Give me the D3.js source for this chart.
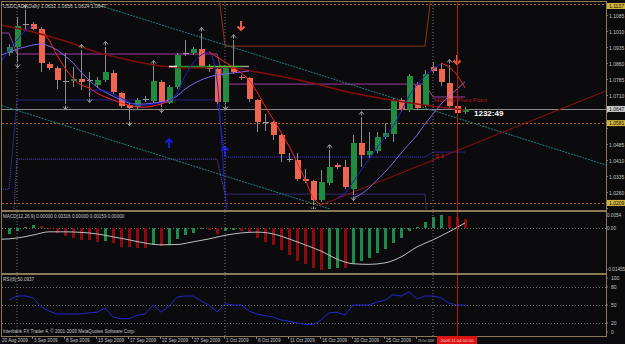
<!DOCTYPE html>
<html>
<head>
<meta charset="utf-8">
<script src="https://cdnjs.cloudflare.com/ajax/libs/d3/7.8.5/d3.min.js"></script>
<style>
  body { margin: 0; background: #0b0b0e; }
  svg { display: block; font-family: "Liberation Sans", Arial, sans-serif; }
</style>
</head>
<body>
<div id="chart"></div>
<script>
// SVG size
let svgWidth = 625;
let svgHeight = 344;

// Daily USDCAD bars
let opens = [1.0908,1.0936,1.1043,1.1043,1.1020,1.0857,1.0838,1.0778,1.0777,1.0787,
  1.0782,1.0759,1.0782,1.0815,1.0721,1.0665,1.0656,1.0693,1.0684,1.0773,
  1.0675,1.0749,1.0907,1.0908,1.0926,1.0847,1.0833,1.0679,1.0838,1.0796,
  1.0791,1.0689,1.0587,1.0586,1.0525,1.0414,1.0409,1.0320,1.0311,1.0222,
  1.0301,1.0385,1.0376,1.0273,1.0488,1.0432,1.0451,1.0516,1.0530,1.0689,
  1.0642,1.0759,1.0665,1.0842,1.0833,1.0768,1.0661,1.0632];
let highs = [1.0950,1.1076,1.1108,1.1052,1.1029,1.0866,1.0847,1.0908,1.0842,1.0922,
  1.0819,1.0796,1.0936,1.0828,1.0726,1.0675,1.0698,1.0707,1.0847,1.0782,
  1.0759,1.0908,1.0968,1.0936,1.1001,1.0857,1.0838,1.0847,1.0968,1.0805,
  1.0796,1.0693,1.0623,1.0591,1.0530,1.0441,1.0441,1.0367,1.0315,1.0362,
  1.0455,1.0395,1.0409,1.0525,1.0609,1.0539,1.0539,1.0581,1.0698,1.0698,
  1.0810,1.0773,1.0828,1.0866,1.0861,1.0852,1.0670,1.0656];
let lows = [1.0894,1.0866,1.1015,1.1015,1.0819,1.0828,1.0740,1.0670,1.0749,1.0735,
  1.0703,1.0745,1.0773,1.0717,1.0651,1.0595,1.0647,1.0679,1.0675,1.0656,
  1.0670,1.0740,1.0894,1.0898,1.0838,1.0819,1.0670,1.0670,1.0810,1.0782,
  1.0679,1.0539,1.0544,1.0502,1.0399,1.0399,1.0311,1.0301,1.0199,1.0213,
  1.0292,1.0367,1.0273,1.0246,1.0376,1.0418,1.0441,1.0507,1.0493,1.0633,
  1.0633,1.0642,1.0656,1.0815,1.0754,1.0651,1.0619,1.0624];
let closes = [1.0936,1.1034,1.1041,1.1020,1.0861,1.0838,1.0782,1.0777,1.0787,1.0773,
  1.0781,1.0782,1.0819,1.0726,1.0661,1.0651,1.0689,1.0692,1.0777,1.0679,
  1.0749,1.0898,1.0906,1.0926,1.0847,1.0833,1.0679,1.0838,1.0819,1.0791,
  1.0693,1.0586,1.0585,1.0525,1.0437,1.0412,1.0320,1.0311,1.0222,1.0306,
  1.0376,1.0376,1.0283,1.0488,1.0432,1.0451,1.0516,1.0535,1.0689,1.0642,
  1.0801,1.0651,1.0810,1.0824,1.0773,1.0661,1.0628,1.0647];

// Fractal bars
let fractalUp = [2, 9, 12, 18, 24, 28, 40, 44, 55];
let fractalDown = [1, 7, 10, 15, 19, 27, 38, 43];

// Signal arrows [bar, price]
let arrowsDown = [[29, 1.1034], [56, 1.0875]];
let arrowsUp = [[20, 1.0488], [27, 1.0451]];

// Overlay curves [bar, price]
let maSlow = [[-1,1.1038],[3,1.1006],[7,1.0964],[11,1.0912],[15,1.0875],[19,1.0847],[23,1.0838],
  [27,1.0842],[31,1.0819],[35,1.0791],[39,1.0758],[43,1.0721],[47,1.0693],[51,1.0670],[55,1.0651],[57,1.0642]];
let redCurves = [
  [[4,1.1015],[5,1.0968],[6,1.0898],[7,1.0838],[8,1.0791],[9,1.0759],[10,1.0745],[11,1.0721],[12,1.0703],
   [13,1.0689],[14,1.0675],[15,1.0665],[16,1.0656],[17,1.0656],[18,1.0661],[19,1.0670],[20,1.0684]],
  [[25,1.0913],[26,1.0889],[27,1.0866],[28,1.0842],[29,1.0815],[30,1.0782],[31,1.0726],[32,1.0661],
   [33,1.0600],[34,1.0539],[35,1.0474],[36,1.0399],[37,1.0320],[38,1.0236],[39,1.0199]],
  [[54,1.0861],[55,1.0842],[56,1.0805],[57,1.0745]]
];
let blueCurves = [
  [[-1,1.0866],[0,1.0922],[1,1.0968],[2,1.1010],[3,1.1034]],
  [[10,1.0726],[11,1.0735],[12,1.0731],[13,1.0717],[14,1.0698],[15,1.0679],[16,1.0665],[17,1.0665],
   [18,1.0670],[19,1.0675],[20,1.0684],[21,1.0721],[22,1.0801],[23,1.0861],[24,1.0898],[25,1.0913],
   [26,1.0782],[27,1.0268],[28,0.9900]],
  [[41,1.0232],[42,1.0255],[43,1.0306],[44,1.0362],[45,1.0413],[46,1.0465],[47,1.0516],[48,1.0567],
   [49,1.0633],[50,1.0707],[51,1.0759],[52,1.0801],[53,1.0833],[54,1.0857]]
];
let violetCurves = [
  [[-1,1.0898],[0,1.0912],[1,1.0926],[2,1.0936],[3,1.0945],[4,1.0950],[5,1.0940],[6,1.0922],[7,1.0894],
   [8,1.0862],[9,1.0819],[10,1.0782],[11,1.0749],[12,1.0726],[13,1.0707],[14,1.0689],[15,1.0675],
   [16,1.0670],[17,1.0670],[18,1.0675],[19,1.0679],[20,1.0689],[21,1.0707],[22,1.0740],[23,1.0763],
   [24,1.0782],[25,1.0796],[26,1.0805],[27,1.0810],[28,1.0815],[29,1.0819],[30,1.0824]],
  [[43,1.0232],[44,1.0250],[45,1.0278],[46,1.0315],[47,1.0353],[48,1.0395],[49,1.0441],[50,1.0483],
   [51,1.0525],[52,1.0577],[53,1.0623],[54,1.0670],[55,1.0707],[56,1.0740],[57,1.0773]]
];
let greenLevelBars = [20, 21, 25, 29, 30];
let greenLevel = 1.0845;

// Trend lines [bar, price] pairs, extended to the chart edges
let trendUp = [[39, 1.0199], [57, 1.0468]];
let channelHigh = [[49, 1.0687], [57, 1.0593]];
let channelLow = [[0, 1.0652], [40, 1.0182]];

// Monthly pivots (Aug, Sep, Oct, Nov)
let monthStart = [-1, 1, 27, 53];
let pivotP = [1.1001, 1.0903, 1.0763, 1.0703];
let pivotR1 = [1.1250, 1.1250, 1.0940, 1.1250];
let pivotS1 = [1.0273, 1.0689, 1.0423, 1.0446];
let pivotS2 = [0.9800, 1.0413, 1.0250, 0.9800];

// Horizontal price levels
let levelsDotted = [1.1137, 1.0581, 1.0209];
let bidPrice = 1.0647;

// MACD(12,26,9)
let macdHist = [-0.0020,-0.0010,0.0003,0.0010,0.0005,-0.0002,-0.0017,-0.0027,-0.0034,-0.0040,
  -0.0041,-0.0047,-0.0044,-0.0051,-0.0064,-0.0066,-0.0068,-0.0069,-0.0058,-0.0061,
  -0.0057,-0.0037,-0.0024,-0.0017,-0.0005,-0.0008,-0.0020,-0.0010,-0.0007,-0.0009,
  -0.0014,-0.0034,-0.0047,-0.0057,-0.0074,-0.0091,-0.0111,-0.0121,-0.0135,-0.0142,
  -0.0138,-0.0135,-0.0136,-0.0121,-0.0111,-0.0101,-0.0084,-0.0071,-0.0051,-0.0034,
  -0.0010,0.0002,0.0020,0.0037,0.0044,0.0040,0.0037,0.0030];
let macdSignal = [[-1,-0.0038],[0,-0.0037],[1,-0.0034],[3,-0.0024],[5,-0.0013],[7,-0.0013],[9,-0.0015],
  [11,-0.0020],[13,-0.0030],[15,-0.0040],[17,-0.0051],[19,-0.0057],[21,-0.0056],[23,-0.0047],
  [25,-0.0037],[27,-0.0025],[29,-0.0017],[31,-0.0014],[33,-0.0020],[35,-0.0037],[37,-0.0057],
  [39,-0.0078],[41,-0.0105],[43,-0.0121],[45,-0.0123],[47,-0.0118],[49,-0.0098],[51,-0.0064],
  [53,-0.0040],[55,-0.0013],[57,0.0017]];

// RSI(8)
let rsi = [58,65,65,62,47,40,35,35,35,35, 37,38,45,30,27,27,33,35,50,38,
  48,63,65,65,57,50,38,52,50,50, 40,35,32,30,25,23,20,18,17,25,
  37,38,33,50,50,50,55,58,67,65, 72,60,65,65,62,53,50,50.09];
let rsiLevels = [80, 50, 20];

// Axis labels
let priceTicks = d3.range(0, 13).map((k) => 1.1085 - k * 0.0075);
let timeBars = [3, 7, 11, 15, 19, 23, 27, 31, 35, 39, 43, 47, 51];
let timeLabels = ["3 Sep 2009","8 Sep 2009","13 Sep 2009","17 Sep 2009","22 Sep 2009","27 Sep 2009",
  "1 Oct 2009","6 Oct 2009","11 Oct 2009","16 Oct 2009","20 Oct 2009","25 Oct 2009","29 Oct 2009"];
let cursorBar = 56;

// colours
let frameColor = "#8a7a56";
let textColor = "#c4c4c4";
let bullColor = "#1f8c3e";
let bearColor = "#ef6650";

// scales
let x = d3.scaleLinear().domain([0, 57]).range([9, 465]);
let yPrice = d3.scaleLinear().domain([1.0176, 1.1141]).range([210, 3]);
let yMacd = d3.scaleLinear().domain([-0.01455, 0.0054]).range([271, 212]);
let yRsi = d3.scaleLinear().domain([0, 100]).range([335, 275]);

let svg = d3.select("#chart").append("svg")
  .attr("width", svgWidth)
  .attr("height", svgHeight);

svg.append("rect").attr("width", svgWidth).attr("height", svgHeight).attr("fill", "#0b0b0e");

// clip areas for each panel
let defs = svg.append("defs");
[["clipMain", 2, 209], ["clipMacd", 212, 272], ["clipRsi", 275, 335]].forEach((c) => {
  defs.append("clipPath").attr("id", c[0]).append("rect")
    .attr("x", 2).attr("y", c[1]).attr("width", 604).attr("height", c[2] - c[1]);
});

let main = svg.append("g").attr("clip-path", "url(#clipMain)");
let macdG = svg.append("g").attr("clip-path", "url(#clipMacd)");
let rsiG = svg.append("g").attr("clip-path", "url(#clipRsi)");

// Month separators (all panels)
monthStart.slice(1).forEach((b) => {
  svg.append("line")
    .attr("x1", x(b)).attr("x2", x(b)).attr("y1", 2).attr("y2", 336)
    .attr("stroke", "#6e6e6e").attr("stroke-dasharray", "1,2");
});

// Horizontal levels
levelsDotted.forEach((p) => {
  main.append("line").attr("x1", 2).attr("x2", 606)
    .attr("y1", Math.round(yPrice(p)) + 0.5).attr("y2", Math.round(yPrice(p)) + 0.5)
    .attr("stroke", "#b0672c").attr("stroke-dasharray", "2,2");
});
main.append("line").attr("x1", 2).attr("x2", 606)
  .attr("y1", Math.round(yPrice(bidPrice)) + 0.5).attr("y2", Math.round(yPrice(bidPrice)) + 0.5)
  .attr("stroke", "#8a8a8a");

// line helpers
let priceLine = d3.line().x((d) => x(d[0])).y((d) => yPrice(d[1]));
let smoothLine = d3.line().x((d) => x(d[0])).y((d) => yPrice(d[1])).curve(d3.curveMonotoneX);

// Monthly pivot lines, one value per bar
function pivotPoints(values) {
  return d3.range(-1, 58).map((b) => {
    let m = monthStart.filter((s) => s <= b).length - 1;
    return [b, values[m]];
  });
}
main.append("path").attr("d", priceLine(pivotPoints(pivotR1)))
  .attr("fill", "none").attr("stroke", "#8a3418");
main.append("path").attr("d", priceLine(pivotPoints(pivotP)))
  .attr("fill", "none").attr("stroke", "#a23aa2");
main.append("path").attr("d", priceLine(pivotPoints(pivotS1)))
  .attr("fill", "none").attr("stroke", "#3d3dff").attr("stroke-dasharray", "1,1");
main.append("path").attr("d", priceLine(pivotPoints(pivotS2)))
  .attr("fill", "none").attr("stroke", "#6446d2").attr("stroke-dasharray", "1,1");

// Trend lines extended across the chart
function extend(pts) {
  let slope = (pts[1][1] - pts[0][1]) / (pts[1][0] - pts[0][0]);
  return [[-2, pts[0][1] + slope * (-2 - pts[0][0])], [75, pts[0][1] + slope * (75 - pts[0][0])]];
}
main.append("path").attr("d", priceLine(extend(channelHigh)))
  .attr("stroke", "#1c8080").attr("stroke-dasharray", "2,1").attr("fill", "none");
main.append("path").attr("d", priceLine(extend(channelLow)))
  .attr("stroke", "#1c8080").attr("stroke-dasharray", "2,1").attr("fill", "none");
main.append("path").attr("d", priceLine([trendUp[0], extend(trendUp)[1]]))
  .attr("stroke", "#8e1010").attr("fill", "none");

// Candles
let candles = main.append("g").attr("shape-rendering", "crispEdges");
d3.range(opens.length).forEach((i) => {
  let cx = Math.round(x(i));
  let up = closes[i] >= opens[i];
  let flat = Math.abs(closes[i] - opens[i]) < 0.0004;
  candles.append("line")
    .attr("x1", cx + 0.5).attr("x2", cx + 0.5)
    .attr("y1", yPrice(highs[i])).attr("y2", yPrice(lows[i]))
    .attr("stroke", "#8c8c8c");
  let top = yPrice(Math.max(opens[i], closes[i]));
  let bot = yPrice(Math.min(opens[i], closes[i]));
  candles.append("rect")
    .attr("x", cx - 2).attr("width", 6)
    .attr("y", top).attr("height", Math.max(1, bot - top))
    .attr("fill", flat ? "#9a9a9a" : (up ? bullColor : bearColor));
});

// Slow MA
main.append("path").attr("d", smoothLine(maSlow))
  .attr("fill", "none").attr("stroke", "#860c0c").attr("stroke-width", 1.5);

// Level segments with changing colours
let levelColors = ["#e8e8e8", "#1c8c2c", "#3ad23a", "#9a9a9a"];
levelColors.forEach((c, k) => {
  main.append("line")
    .attr("x1", x(greenLevelBars[k])).attr("x2", x(greenLevelBars[k + 1]))
    .attr("y1", yPrice(greenLevel)).attr("y2", yPrice(greenLevel))
    .attr("stroke", c).attr("stroke-width", 1.5);
});

// Curves
violetCurves.forEach((c) => {
  main.append("path").attr("d", smoothLine(c)).attr("fill", "none").attr("stroke", "#7c66ee");
});
blueCurves.forEach((c) => {
  main.append("path").attr("d", smoothLine(c)).attr("fill", "none").attr("stroke", "#2121cc");
});
redCurves.forEach((c) => {
  main.append("path").attr("d", smoothLine(c)).attr("fill", "none").attr("stroke", "#ff2222");
});

// Fractals
fractalUp.forEach((b) => {
  main.append("path")
    .attr("transform", `translate(${x(b) + 0.5}, ${yPrice(highs[b]) - 4})`)
    .attr("d", "M-2.5,1.5L0,-1.5L2.5,1.5M0,-1.5L0,2.5")
    .attr("fill", "none").attr("stroke", "#9a9a9a");
});
fractalDown.forEach((b) => {
  main.append("path")
    .attr("transform", `translate(${x(b) + 0.5}, ${yPrice(lows[b]) + 4})`)
    .attr("d", "M-2.5,-1.5L0,1.5L2.5,-1.5M0,1.5L0,-2.5")
    .attr("fill", "none").attr("stroke", "#9a9a9a");
});

// Arrows
arrowsDown.forEach((a) => {
  main.append("path")
    .attr("transform", `translate(${x(a[0])}, ${yPrice(a[1])})`)
    .attr("d", "M0,-5L0,4M-3.5,0.5L0,4L3.5,0.5")
    .attr("fill", "none").attr("stroke", "#f05a44").attr("stroke-width", 2);
});
arrowsUp.forEach((a) => {
  main.append("path")
    .attr("transform", `translate(${x(a[0])}, ${yPrice(a[1])})`)
    .attr("d", "M0,5L0,-4M-3.5,-0.5L0,-4L3.5,-0.5")
    .attr("fill", "none").attr("stroke", "#1a1ad8").attr("stroke-width", 2);
});

// Pivot labels
main.append("text").attr("x", x(53) + 1).attr("y", yPrice(pivotP[3]) + 5)
  .attr("fill", "#a81c1c").attr("font-size", "6.2px").text("Monthly Pivot Point");
main.append("text").attr("x", x(53) + 2).attr("y", yPrice(pivotS1[3]) + 6)
  .attr("fill", "#d02020").attr("font-size", "6.2px").text("S 1");

// Countdown label
main.append("text").attr("x", x(57) + 9).attr("y", yPrice(bidPrice) + 7)
  .attr("fill", "#ffffff").attr("font-size", "8px").attr("font-weight", "bold").text("1232:49");

// Title
svg.append("text").attr("x", 3).attr("y", 8).attr("fill", textColor).attr("font-size", "5px")
  .text("USDCADe,Daily  1.0632 1.0656 1.0624 1.0647");

// MACD panel
macdG.append("line").attr("x1", 2).attr("x2", 606)
  .attr("y1", Math.round(yMacd(0)) + 0.5).attr("y2", Math.round(yMacd(0)) + 0.5)
  .attr("stroke", "#6e6e6e").attr("stroke-dasharray", "1,2");
macdG.append("g").attr("shape-rendering", "crispEdges")
  .selectAll("rect").data(macdHist).enter().append("rect")
  .attr("x", (d, i) => Math.round(x(i)) - 1)
  .attr("width", 3)
  .attr("y", (d) => Math.min(yMacd(d), yMacd(0)))
  .attr("height", (d) => Math.max(1, Math.abs(yMacd(d) - yMacd(0))))
  .attr("fill", (d, i) => (i === 0 || d > macdHist[i - 1]) ? "#1d8c48" : "#8c0a0a");
macdG.append("path")
  .attr("d", d3.line().x((d) => x(d[0])).y((d) => yMacd(d[1])).curve(d3.curveMonotoneX)(macdSignal))
  .attr("fill", "none").attr("stroke", "#bdbdbd");
svg.append("text").attr("x", 3).attr("y", 218).attr("fill", textColor).attr("font-size", "4.6px")
  .text("MACD(12,26,9) 0.00000 0.00316 0.00000 0.00159 0.00000");

// RSI panel
rsiLevels.forEach((v) => {
  rsiG.append("line").attr("x1", 2).attr("x2", 606)
    .attr("y1", Math.round(yRsi(v)) + 0.5).attr("y2", Math.round(yRsi(v)) + 0.5)
    .attr("stroke", "#6e6e6e").attr("stroke-dasharray", "1,2");
});
rsiG.append("path")
  .attr("d", d3.line().x((d, i) => x(i)).y((d) => yRsi(d))(rsi))
  .attr("fill", "none").attr("stroke", "#2424d2");
svg.append("text").attr("x", 3).attr("y", 281).attr("fill", textColor).attr("font-size", "4.6px")
  .text("RSI(8) 50.0937");
svg.append("text").attr("x", 3).attr("y", 333).attr("fill", textColor).attr("font-size", "4.6px")
  .text("Interbank FX Trader 4, © 2001-2009 MetaQuotes Software Corp.");

// cursor line
svg.append("line")
  .attr("x1", x(cursorBar) + 0.5).attr("x2", x(cursorBar) + 0.5).attr("y1", 2).attr("y2", 336)
  .attr("stroke", "#b81414");

// Frames
let frame = svg.append("g").attr("stroke", frameColor).attr("fill", "none").attr("shape-rendering", "crispEdges");
frame.append("rect").attr("x", 1.5).attr("y", 1.5).attr("width", 604.5).attr("height", 334.5);
frame.append("line").attr("x1", 1).attr("x2", 606).attr("y1", 210.5).attr("y2", 210.5).attr("stroke-width", 2);
frame.append("line").attr("x1", 1).attr("x2", 606).attr("y1", 273.5).attr("y2", 273.5).attr("stroke-width", 2);

// Price axis
let axisG = svg.append("g").attr("font-size", "5px").attr("fill", textColor);
let tagPrices = levelsDotted.concat([bidPrice]);
let tagY = (p) => Math.max(6, yPrice(p));
priceTicks.forEach((p) => {
  let yy = Math.round(yPrice(p)) + 0.5;
  axisG.append("line").attr("x1", 606).attr("x2", 608).attr("y1", yy).attr("y2", yy).attr("stroke", frameColor);
  // labels hidden under a price tag are not drawn
  if (tagPrices.some((t) => Math.abs(tagY(t) - yy) < 6)) return;
  axisG.append("text").attr("x", 609).attr("y", yy + 2).text(p.toFixed(4));
});
// highlighted labels
function tagLabel(p, bg) {
  let yy = tagY(p);
  axisG.append("rect").attr("x", 607).attr("y", yy - 3).attr("width", 18).attr("height", 6).attr("fill", bg);
  axisG.append("text").attr("x", 609).attr("y", yy + 2).attr("fill", "#101010").text(p.toFixed(4));
}
levelsDotted.forEach((p) => tagLabel(p, "#d2b43c"));
tagLabel(bidPrice, "#c8c8c8");

// MACD axis
[[0.0054, "0.0054"], [0, "0.00"], [-0.01455, "-0.01455"]].forEach((t) => {
  let yy = Math.min(269, Math.max(215, yMacd(t[0])));
  axisG.append("text").attr("x", 607).attr("y", yy + 2).attr("font-size", "4.6px").text(t[1]);
});
// RSI axis
[100, 80, 50, 20, 0].forEach((v) => {
  let yy = Math.min(332, Math.max(278, yRsi(v)));
  axisG.append("line").attr("x1", 606).attr("x2", 608).attr("y1", yy).attr("y2", yy).attr("stroke", frameColor);
  axisG.append("text").attr("x", 611).attr("y", yy + 2).text(v);
});

// Time axis
let timeG = svg.append("g").attr("font-size", "4.6px").attr("fill", textColor);
let boxLeft = x(cursorBar) - 20;
timeG.append("text").attr("x", 2).attr("y", 342).text("20 Aug 2009");
timeBars.forEach((b, k) => {
  timeG.append("line").attr("x1", x(b) - 0.5).attr("x2", x(b) - 0.5).attr("y1", 336).attr("y2", 339)
    .attr("stroke", frameColor);
  let t = timeG.append("text").attr("x", x(b) + 1).attr("y", 342).text(timeLabels[k]);
  // shrink the label that runs into the cursor box
  let w = t.node().getComputedTextLength();
  let room = boxLeft - x(b) - 4;
  if (w > room) {
    t.attr("font-size", (4.6 * room / w).toFixed(2) + "px");
  }
});
timeG.append("rect").attr("x", boxLeft).attr("y", 336).attr("width", 40).attr("height", 8).attr("fill", "#dc1414");
timeG.append("text").attr("x", x(cursorBar)).attr("y", 342).attr("text-anchor", "middle")
  .attr("font-size", "4.3px").attr("fill", "#ffd0d0").text("2009.11.04 00:00");
</script>
</body>
</html>
